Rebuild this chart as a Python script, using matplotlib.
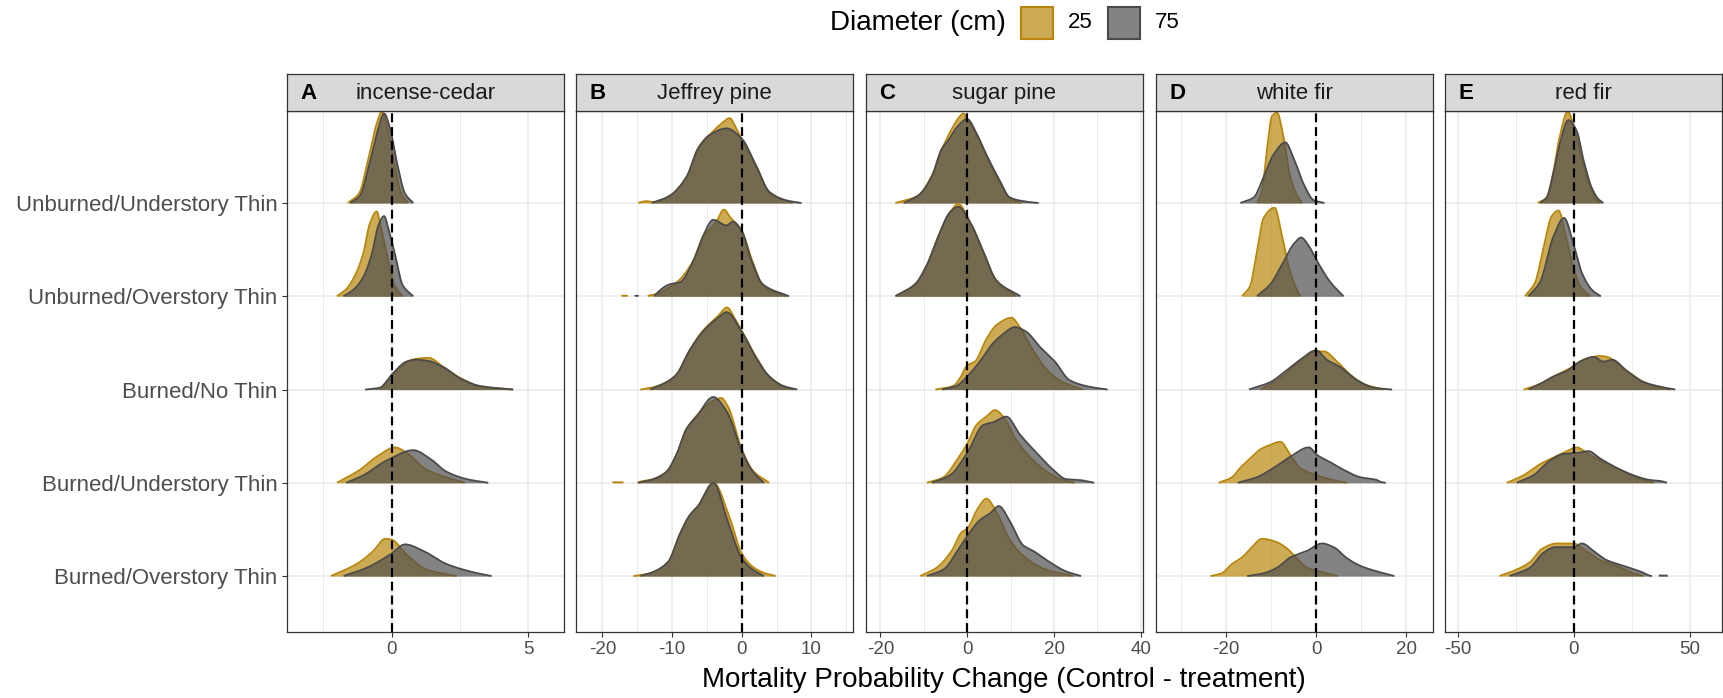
import numpy as np
import matplotlib
matplotlib.use("Agg")
import matplotlib.pyplot as plt
from matplotlib.patches import Rectangle

plt.rcParams['font.family'] = ['Liberation Sans', 'DejaVu Sans']

# ---------------- data ----------------
treatments = ["Unburned/Understory Thin", "Unburned/Overstory Thin", "Burned/No Thin",
              "Burned/Understory Thin", "Burned/Overstory Thin"]
species = ["incense-cedar", "Jeffrey pine", "sugar pine", "white fir", "red fir"]
panel_tags = ["A", "B", "C", "D", "E"]
diameters = ["25", "75"]
x_major_ticks = [[0, 5], [-20, -10, 0, 10], [-20, 0, 20, 40], [-20, 0, 20], [-50, 0, 50]]

# ridge outlines: per treatment row, (x, scaled density height) points
cedar_25 = [
    [(-1.61, 0), (-1.2, 0.1), (-0.85, 0.48), (-0.55, 0.85), (-0.37, 0.98), (-0.15, 0.8), (0.08, 0.45), (0.35, 0.1), (0.6, 0)],
    [(-2.01, 0), (-1.65, 0.08), (-1.3, 0.25), (-1.04, 0.46), (-0.8, 0.78), (-0.55, 0.91), (-0.4, 0.75), (-0.18, 0.45), (0.1, 0.12), (0.4, 0)],
    [(-0.45, 0), (0, 0.14), (0.55, 0.3), (0.9, 0.33), (1.35, 0.34), (1.9, 0.24), (2.6, 0.11), (3.3, 0.03), (4.45, 0)],
    [(-2.01, 0), (-1.16, 0.14), (-0.55, 0.28), (0.12, 0.38), (0.55, 0.32), (1.28, 0.14), (2.0, 0.06), (2.68, 0)],
    [(-2.23, 0), (-1.28, 0.13), (-0.67, 0.27), (-0.24, 0.4), (0, 0.39), (0.55, 0.23), (1.28, 0.07), (2.38, 0)],
]
cedar_75 = [
    [(-1.52, 0), (-1.16, 0.08), (-0.79, 0.45), (-0.49, 0.8), (-0.28, 0.96), (-0.06, 0.8), (0.18, 0.45), (0.49, 0.1), (0.79, 0)],
    [(-1.77, 0), (-1.4, 0.07), (-1.05, 0.2), (-0.73, 0.45), (-0.5, 0.75), (-0.28, 0.86), (-0.1, 0.7), (0.12, 0.45), (0.4, 0.12), (0.79, 0)],
    [(-0.98, 0), (-0.43, 0.02), (0, 0.16), (0.55, 0.3), (0.9, 0.32), (1.3, 0.31), (1.89, 0.24), (2.5, 0.12), (3.2, 0.04), (4.45, 0)],
    [(-1.67, 0), (-1.04, 0.08), (-0.18, 0.24), (0.79, 0.35), (1.4, 0.26), (2.0, 0.12), (2.74, 0.04), (3.54, 0)],
    [(-1.77, 0), (-0.91, 0.09), (-0.06, 0.23), (0.49, 0.34), (1.16, 0.27), (2.0, 0.13), (3.0, 0.04), (3.66, 0)],
]
jeffrey_25 = [
    [(-14.9, 0), (-13.8, 0.02), (-12.5, 0.01), (-10.3, 0.08), (-7.9, 0.28), (-6.2, 0.6), (-4.5, 0.74), (-2.8, 0.86), (-1.76, 0.91), (-0.8, 0.8), (0.5, 0.6), (2.05, 0.4), (4.0, 0.11), (7.3, 0)],
    [(-17.3, 0), (-17.2, 0.006), (-16.5, 0.006), (-16.4, 0), (-13.5, 0), (-13.4, 0.006), (-12.5, 0.02), (-11.0, 0.07), (-8.9, 0.18), (-7.0, 0.38), (-5.6, 0.63), (-3.67, 0.8), (-2.57, 0.93), (-1.7, 0.85), (0, 0.7), (1.5, 0.38), (3.0, 0.12), (5.5, 0.02), (6.5, 0)],
    [(-14.6, 0), (-13.0, 0.02), (-10.8, 0.08), (-9.4, 0.16), (-7.5, 0.42), (-5.6, 0.63), (-3.4, 0.79), (-2.14, 0.88), (-1.0, 0.76), (0, 0.63), (2.05, 0.35), (3.95, 0.14), (6.5, 0.02), (7.5, 0)],
    [(-18.6, 0), (-18.5, 0.006), (-17.1, 0.006), (-17.0, 0), (-15.0, 0), (-14.9, 0.005), (-12.7, 0.04), (-10.8, 0.12), (-9.4, 0.3), (-7.95, 0.57), (-6.5, 0.72), (-4.1, 0.88), (-2.95, 0.91), (-2.0, 0.82), (0, 0.36), (1.6, 0.13), (3.95, 0)],
    [(-15.6, 0), (-13.2, 0.03), (-10.6, 0.15), (-8.9, 0.45), (-7.5, 0.65), (-6.3, 0.75), (-4.05, 1.0), (-1.76, 0.63), (0, 0.24), (1.57, 0.1), (3.0, 0.04), (4.9, 0)],
]
jeffrey_75 = [
    [(-12.95, 0), (-10.3, 0.08), (-7.95, 0.28), (-6.3, 0.58), (-4.6, 0.73), (-2.2, 0.8), (0, 0.69), (2.05, 0.4), (3.95, 0.12), (6.3, 0.03), (8.6, 0)],
    [(-15.4, 0), (-15.3, 0.006), (-14.9, 0.006), (-14.8, 0), (-12.6, 0), (-12.5, 0.01), (-10.3, 0.13), (-8.9, 0.15), (-7.0, 0.37), (-5.6, 0.64), (-4.1, 0.82), (-2.2, 0.76), (-1.3, 0.8), (0, 0.7), (1.3, 0.4), (3.0, 0.13), (6.8, 0)],
    [(-13.2, 0), (-10.8, 0.08), (-9.4, 0.16), (-7.5, 0.42), (-5.6, 0.62), (-3.4, 0.77), (-2.2, 0.83), (0, 0.62), (2.05, 0.34), (3.95, 0.14), (5.9, 0.04), (8.0, 0)],
    [(-14.9, 0), (-12.7, 0.04), (-10.8, 0.12), (-9.4, 0.3), (-7.95, 0.58), (-6.5, 0.71), (-4.1, 0.92), (-2.2, 0.77), (0, 0.34), (1.57, 0.12), (3.2, 0)],
    [(-14.6, 0), (-13.2, 0.03), (-10.6, 0.15), (-8.9, 0.45), (-7.5, 0.65), (-6.3, 0.75), (-4.05, 1.0), (-2.2, 0.63), (0, 0.19), (1.57, 0.07), (3.2, 0)],
]
sugar_25 = [
    [(-16.6, 0), (-15.0, 0.02), (-11.3, 0.08), (-8.2, 0.29), (-5.6, 0.6), (-3.5, 0.8), (-1.5, 0.94), (-0.92, 0.96), (0.2, 0.88), (2.1, 0.74), (4.4, 0.5), (7.5, 0.22), (9.8, 0.05), (12.5, 0)],
    [(-16.6, 0), (-12.0, 0.13), (-9.35, 0.33), (-6.7, 0.64), (-4.0, 0.9), (-2.07, 0.99), (0.6, 0.8), (3.7, 0.48), (6.7, 0.17), (11.3, 0)],
    [(-7.4, 0), (-3.2, 0.04), (-1.7, 0.12), (0, 0.26), (1.76, 0.3), (4.4, 0.54), (6.7, 0.69), (10.2, 0.77), (12.1, 0.67), (15.2, 0.42), (18.2, 0.22), (22.0, 0.08), (26.7, 0)],
    [(-9.35, 0), (-5.5, 0.06), (-2.45, 0.24), (0, 0.42), (2.1, 0.62), (4.4, 0.71), (6.4, 0.78), (8.3, 0.71), (11.3, 0.46), (15.2, 0.24), (19.0, 0.1), (22.0, 0.03), (24.8, 0)],
    [(-10.9, 0), (-7.05, 0.09), (-3.6, 0.27), (-1.3, 0.47), (0, 0.51), (2.5, 0.73), (4.4, 0.83), (6.7, 0.69), (9.8, 0.39), (13.6, 0.19), (18.2, 0.07), (24.4, 0)],
]
sugar_75 = [
    [(-14.7, 0), (-11.3, 0.08), (-8.2, 0.28), (-5.9, 0.58), (-4.4, 0.67), (-2.45, 0.81), (0, 0.9), (2.1, 0.75), (4.4, 0.52), (7.5, 0.24), (9.8, 0.06), (13.6, 0.015), (16.5, 0)],
    [(-16.6, 0), (-12.0, 0.13), (-9.35, 0.33), (-6.7, 0.64), (-4.0, 0.9), (-2.07, 0.96), (0.6, 0.8), (3.7, 0.48), (6.7, 0.17), (12.3, 0)],
    [(-5.9, 0), (-2.45, 0.04), (0, 0.14), (2.9, 0.3), (6.0, 0.5), (7.9, 0.58), (11.0, 0.67), (13.6, 0.62), (16.7, 0.46), (20.2, 0.3), (23.6, 0.1), (28.2, 0.03), (32.4, 0)],
    [(-8.2, 0), (-4.0, 0.08), (0, 0.32), (3.7, 0.62), (6.0, 0.65), (9.0, 0.71), (12.1, 0.52), (16.0, 0.32), (19.8, 0.14), (22.8, 0.04), (25.9, 0.03), (29.3, 0)],
    [(-9.35, 0), (-5.5, 0.07), (-1.7, 0.31), (0.6, 0.47), (2.9, 0.6), (5.2, 0.67), (7.3, 0.75), (9.8, 0.59), (12.9, 0.33), (15.2, 0.27), (19.0, 0.15), (22.8, 0.05), (26.3, 0)],
]
whitefir_25 = [
    [(-13.1, 0), (-12.0, 0.12), (-10.9, 0.56), (-9.76, 0.93), (-8.65, 0.97), (-7.2, 0.71), (-5.7, 0.28), (-4.2, 0.08), (-3.1, 0)],
    [(-16.4, 0), (-14.6, 0.11), (-13.1, 0.48), (-11.6, 0.84), (-9.2, 0.95), (-7.5, 0.64), (-6.1, 0.33), (-4.6, 0.11), (-3.5, 0)],
    [(-12.3, 0), (-8.65, 0.1), (-3.5, 0.3), (0.2, 0.41), (1.7, 0.41), (4.65, 0.3), (7.6, 0.16), (10.6, 0.06), (15.0, 0)],
    [(-21.6, 0), (-18.6, 0.06), (-16.8, 0.16), (-14.6, 0.26), (-12.3, 0.36), (-10.5, 0.4), (-7.9, 0.44), (-5.7, 0.3), (-3.5, 0.16), (0.2, 0.08), (3.9, 0.03), (6.9, 0)],
    [(-23.4, 0), (-20.9, 0.03), (-18.6, 0.13), (-16.4, 0.2), (-14.2, 0.31), (-12.0, 0.4), (-9.0, 0.37), (-6.8, 0.31), (-4.2, 0.19), (-2.0, 0.09), (1.7, 0.04), (4.8, 0)],
]
whitefir_75 = [
    [(-16.8, 0), (-13.8, 0.06), (-11.6, 0.28), (-9.4, 0.52), (-6.8, 0.65), (-4.95, 0.48), (-2.7, 0.2), (-0.5, 0.03), (1.0, 0.01), (1.9, 0)],
    [(-13.1, 0), (-10.1, 0.13), (-7.2, 0.37), (-4.95, 0.56), (-3.3, 0.63), (-1.6, 0.54), (0.2, 0.38), (3.2, 0.15), (6.1, 0)],
    [(-14.9, 0), (-12.3, 0.04), (-10.1, 0.08), (-7.2, 0.18), (-3.5, 0.32), (0, 0.42), (2.4, 0.32), (5.4, 0.24), (9.1, 0.1), (12.8, 0.02), (16.9, 0)],
    [(-17.4, 0), (-13.1, 0.06), (-9.4, 0.16), (-5.7, 0.28), (-1.6, 0.38), (0.2, 0.3), (3.2, 0.22), (6.1, 0.14), (9.8, 0.06), (13.5, 0.03), (14.3, 0.01), (15.5, 0)],
    [(-15.3, 0), (-11.6, 0.03), (-8.65, 0.09), (-5.7, 0.2), (-2.0, 0.27), (1.33, 0.35), (3.9, 0.31), (6.9, 0.19), (9.8, 0.11), (13.5, 0.05), (17.4, 0)],
]
redfir_25 = [
    [(-15.6, 0), (-11.7, 0.06), (-8.8, 0.34), (-6.2, 0.7), (-2.6, 0.98), (0.5, 0.77), (3.5, 0.46), (7.2, 0.16), (9.5, 0.04), (11.4, 0)],
    [(-21.1, 0), (-16.7, 0.15), (-13.1, 0.52), (-9.5, 0.86), (-6.6, 0.92), (-3.75, 0.68), (-0.87, 0.37), (2.7, 0.11), (7.1, 0)],
    [(-21.8, 0), (-14.6, 0.06), (-8.8, 0.14), (-1.6, 0.23), (4.2, 0.32), (11.4, 0.36), (14.3, 0.35), (22.9, 0.2), (30.2, 0.08), (37.4, 0.02), (41.7, 0)],
    [(-29.0, 0), (-21.8, 0.08), (-14.6, 0.2), (-8.1, 0.28), (-3.0, 0.34), (1.3, 0.38), (5.6, 0.32), (12.8, 0.22), (20.1, 0.14), (27.3, 0.06), (34.5, 0)],
    [(-32.2, 0), (-24.7, 0.07), (-18.9, 0.15), (-13.9, 0.29), (-7.4, 0.35), (-0.14, 0.35), (4.2, 0.29), (11.4, 0.17), (18.6, 0.11), (25.8, 0.03), (30.2, 0)],
]
redfir_75 = [
    [(-14.6, 0), (-11.7, 0.06), (-8.8, 0.32), (-5.9, 0.65), (-2.3, 0.89), (1.3, 0.77), (4.2, 0.46), (7.8, 0.16), (10.7, 0.04), (12.8, 0)],
    [(-19.6, 0), (-14.6, 0.15), (-8.8, 0.64), (-4.2, 0.84), (-0.14, 0.56), (3.5, 0.25), (7.8, 0.07), (11.7, 0)],
    [(-19.6, 0), (-14.6, 0.06), (-8.8, 0.14), (-3.0, 0.2), (2.7, 0.3), (8.5, 0.35), (12.8, 0.3), (16.5, 0.32), (22.9, 0.2), (30.2, 0.08), (37.4, 0.03), (43.9, 0)],
    [(-24.7, 0), (-17.5, 0.08), (-10.2, 0.24), (-4.5, 0.31), (1.3, 0.32), (6.35, 0.34), (11.4, 0.26), (18.6, 0.16), (25.8, 0.08), (33.0, 0.03), (37.4, 0.02), (40.3, 0)],
    [(-27.8, 0), (-18.9, 0.09), (-13.1, 0.25), (-8.1, 0.31), (-0.14, 0.31), (3.5, 0.35), (8.5, 0.27), (14.3, 0.17), (21.5, 0.11), (28.7, 0.05), (34.0, 0), (36.6, 0), (36.7, 0.006), (40.5, 0.006), (40.6, 0)],
]

ridges = {
    "incense-cedar": (cedar_25, cedar_75),
    "Jeffrey pine": (jeffrey_25, jeffrey_75),
    "sugar pine": (sugar_25, sugar_75),
    "white fir": (whitefir_25, whitefir_75),
    "red fir": (redfir_25, redfir_75),
}

# ---------------- styling / layout ----------------
W, H = 1724, 698
x_limits = [(-3.84, 6.30), (-23.8, 16.0), (-23.4, 40.5), (-35.5, 25.9), (-55.6, 64.1)]
panel_left_px = [286.7, 576.0, 865.7, 1155.7, 1445.0]
panel_w_px = 277.3
panel_top_px, panel_bot_px = 110.7, 631.6
strip_top_px = 73.7
fill_cols = {"25": "#B8860B", "75": "#4F4F4F"}
line_cols = {"25": "#B8860B", "75": "#4A4A4A"}
ALPHA = 0.7
grid_col = "#EBEBEB"
border_col = "#333333"
text_gray = "#4D4D4D"


def pchip(xk, yk, xs):
    xk = np.asarray(xk, float)
    yk = np.asarray(yk, float)
    h = np.diff(xk)
    d = np.diff(yk) / h
    n = len(xk)
    m = np.zeros(n)
    for k in range(1, n - 1):
        if d[k - 1] * d[k] > 0:
            w1 = 2 * h[k] + h[k - 1]
            w2 = h[k] + 2 * h[k - 1]
            m[k] = (w1 + w2) / (w1 / d[k - 1] + w2 / d[k])
    m[0] = d[0]
    m[-1] = d[-1]
    idx = np.clip(np.searchsorted(xk, xs) - 1, 0, n - 2)
    t = (xs - xk[idx]) / h[idx]
    h00 = 2 * t**3 - 3 * t**2 + 1
    h10 = t**3 - 2 * t**2 + t
    h01 = -2 * t**3 + 3 * t**2
    h11 = t**3 - t**2
    y = h00 * yk[idx] + h10 * h[idx] * m[idx] + h01 * yk[idx + 1] + h11 * h[idx] * m[idx + 1]
    return np.clip(y, 0, None)


def frac_rect(x0, y0, x1, y1):
    return [x0 / W, 1 - y1 / H, (x1 - x0) / W, (y1 - y0) / H]


fig = plt.figure(figsize=(W / 100, H / 100), dpi=100)
row_pos = {t: len(treatments) - i for i, t in enumerate(treatments)}

for p, sp in enumerate(species):
    x0 = panel_left_px[p]
    ax = fig.add_axes(frac_rect(x0, panel_top_px, x0 + panel_w_px, panel_bot_px))
    xl = x_limits[p]
    ax.set_xlim(*xl)
    ax.set_ylim(0.405, 5.99)
    majors = x_major_ticks[p]
    step = majors[1] - majors[0]
    minors = np.arange(majors[0] - step / 2, xl[1], step)
    for mx in minors:
        if xl[0] < mx < xl[1]:
            ax.axvline(mx, color=grid_col, lw=0.7, zorder=0)
    for mx in majors:
        ax.axvline(mx, color=grid_col, lw=1.2, zorder=0)
    for t in treatments:
        ax.axhline(row_pos[t], color=grid_col, lw=1.2, zorder=0)

    d25, d75 = ridges[sp]
    z = 2
    for i, t in enumerate(treatments):
        base = row_pos[t]
        for dia, data in zip(diameters, (d25, d75)):
            pts = np.array(data[i])
            xs = np.linspace(pts[0, 0], pts[-1, 0], 600)
            hs = pchip(pts[:, 0], pts[:, 1], xs)
            ax.fill_between(xs, base, base + hs, color=fill_cols[dia], alpha=ALPHA,
                            lw=0, zorder=z)
            yline = np.where(hs > 1e-4, base + hs, np.nan)
            ax.plot(xs, yline, color=line_cols[dia], lw=1.3, zorder=z + 0.5,
                    solid_capstyle='butt')
            z += 1
    ax.axvline(0, color="black", lw=1.6, ls=(0, (4, 2.2)), zorder=100)

    ax.set_xticks(majors)
    ax.set_xticklabels([str(v) for v in majors])
    ax.tick_params(axis='x', length=3.6, width=0.8, color=border_col, labelsize=13.5,
                   labelcolor=text_gray, pad=3.5)
    if p == 0:
        ax.set_yticks([row_pos[t] for t in treatments])
        ax.set_yticklabels(treatments)
        ax.tick_params(axis='y', length=3.6, width=0.8, color=border_col, labelsize=16,
                       labelcolor=text_gray, pad=3.0)
    else:
        ax.set_yticks([])
    for s in ax.spines.values():
        s.set_color(border_col)
        s.set_linewidth(0.9)
        s.set_zorder(200)

    # strip
    sax = fig.add_axes(frac_rect(x0, strip_top_px, x0 + panel_w_px, panel_top_px))
    sax.set_facecolor("#D9D9D9")
    sax.set_xticks([])
    sax.set_yticks([])
    for s in sax.spines.values():
        s.set_color(border_col)
        s.set_linewidth(0.9)
    sax.text(0.5, 0.47, sp, transform=sax.transAxes, ha='center', va='center',
             fontsize=16, color="#1A1A1A")
    sax.text(13.5 / panel_w_px, 0.47, panel_tags[p], transform=sax.transAxes, ha='left',
             va='center', fontsize=16, fontweight='bold', color="black")

# axis title
fig.text(1004 / W, 1 - 687 / H, "Mortality Probability Change (Control - treatment)",
         ha='center', va='baseline', fontsize=20, color="black")

# legend
fig.text(830 / W, 1 - 23 / H, "Diameter (cm)", ha='left', va='center', fontsize=20,
         color="black")
key_x = [1021.5, 1108.0]
lab_x = [1068.0, 1155.0]
for dia, kx, lx in zip(diameters, key_x, lab_x):
    fig.patches.append(Rectangle((kx / W, 1 - 39 / H), 32 / W, 32 / H,
                                 transform=fig.transFigure, facecolor=fill_cols[dia],
                                 alpha=None, edgecolor=line_cols[dia], lw=1.5))
    fig.patches[-1].set_facecolor(matplotlib.colors.to_rgba(fill_cols[dia], ALPHA))
    fig.text(lx / W, 1 - 23 / H, dia, ha='left', va='center', fontsize=16, color="black")

fig.savefig("out.png", dpi=100)
